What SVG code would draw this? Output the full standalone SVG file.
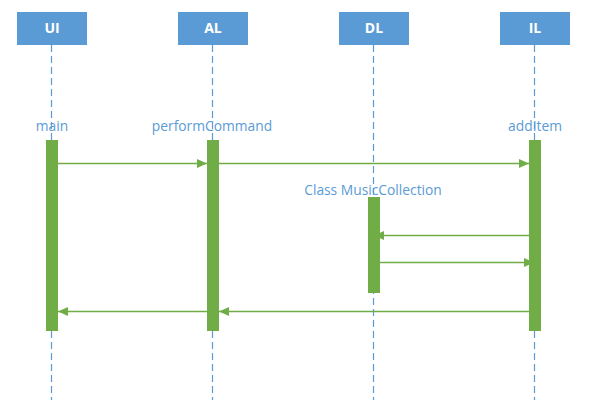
<svg xmlns="http://www.w3.org/2000/svg" width="601" height="405" viewBox="0 0 601 405">
<style>
.head{fill:#5B9BD5}
.ht{font-family:"Open Sans","Liberation Sans",sans-serif;font-weight:bold;font-size:14px;fill:#fff;text-anchor:middle}
.life{stroke:#5B9BD5;stroke-width:1.2;stroke-dasharray:7,4;fill:none}
.bar{fill:#70AD47}
.lbl{font-family:"Open Sans","Liberation Sans",sans-serif;font-size:13.8px;fill:#5B9BD5;text-anchor:middle}
.msg{stroke:#70AD47;stroke-width:1.3;fill:none}
</style>
<defs>
<marker id="ah" viewBox="0 0 10 10" refX="10" refY="5" markerWidth="10" markerHeight="10" markerUnits="userSpaceOnUse" orient="auto">
<path d="M0,0.5 L10,5 L0,9.5 z" fill="#70AD47"/>
</marker>
</defs>
<g id="lifelines">
<line class="life" x1="51.5" y1="45" x2="51.5" y2="400"/>
<line class="life" x1="212.5" y1="45" x2="212.5" y2="400"/>
<line class="life" x1="373.5" y1="45" x2="373.5" y2="400"/>
<line class="life" x1="534.5" y1="45" x2="534.5" y2="400"/>
</g>
<g id="UI">
<rect class="head" x="17" y="12" width="70" height="33"/>
<text class="ht" x="52" y="33">UI</text>
<text class="lbl" x="52" y="131">main</text>
<rect class="bar" x="46" y="140" width="12" height="191"/>
</g>
<g id="AL">
<rect class="head" x="178" y="12" width="70" height="33"/>
<text class="ht" x="213" y="33">AL</text>
<text class="lbl" x="212" y="131">performCommand</text>
<rect class="bar" x="207" y="140" width="12" height="191"/>
</g>
<g id="DL">
<rect class="head" x="339" y="12" width="70" height="33"/>
<text class="ht" x="374" y="33">DL</text>
<text class="lbl" x="373" y="195">Class MusicCollection</text>
<rect class="bar" x="368" y="197" width="12" height="96"/>
</g>
<g id="IL">
<rect class="head" x="500" y="12" width="70" height="33"/>
<text class="ht" x="535" y="33">IL</text>
<text class="lbl" x="535" y="131">addItem</text>
<rect class="bar" x="529" y="140" width="12" height="191"/>
</g>
<g id="connectors">
<line class="msg" x1="58" y1="163.5" x2="207" y2="163.5" marker-end="url(#ah)"/>
<line class="msg" x1="219" y1="163.5" x2="529" y2="163.5" marker-end="url(#ah)"/>
<line class="msg" x1="529" y1="235.5" x2="374" y2="235.5" marker-end="url(#ah)"/>
<line class="msg" x1="373" y1="262.5" x2="534" y2="262.5" marker-end="url(#ah)"/>
<line class="msg" x1="529" y1="311.5" x2="219" y2="311.5" marker-end="url(#ah)"/>
<line class="msg" x1="207" y1="311.5" x2="58" y2="311.5" marker-end="url(#ah)"/>
</g>
</svg>
